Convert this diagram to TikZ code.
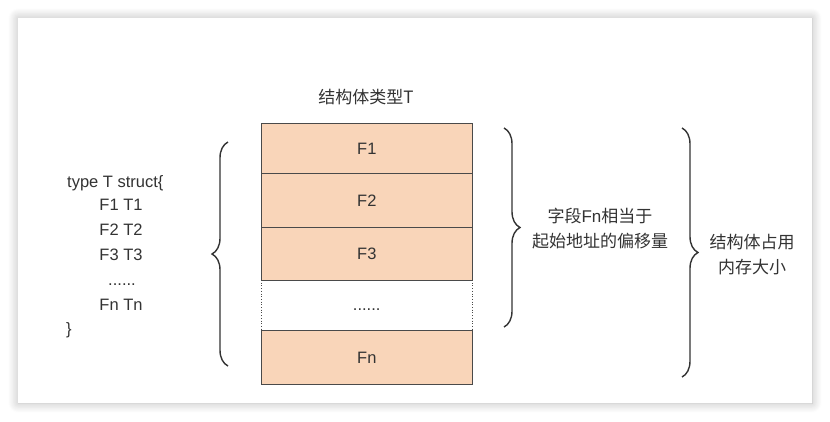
\documentclass[tikz,border=0pt]{standalone}
\usepackage{fontspec}
\setmainfont{Liberation Sans}
\newfontfamily\cjk{Noto Sans CJK SC}
\usetikzlibrary{decorations.pathreplacing,shadows.blur}

\definecolor{peach}{HTML}{F9D5B9}
\definecolor{ink}{HTML}{333333}
\definecolor{rule}{HTML}{4A4A4A}

\tikzset{
  card/.style={fill=white, blur shadow={shadow xshift=0pt, shadow yshift=0pt,
      shadow blur radius=10pt, shadow blur steps=12, shadow opacity=28}},
  label/.style={text=ink, font=\fontsize{16.5}{20}\selectfont, inner sep=0pt},
  cjklabel/.style={text=ink, font=\fontsize{17}{20}\cjk, inner sep=0pt},
  codeline/.style={label, anchor=base},
  field/.style={fill=peach, draw=rule, line width=0.7pt, inner sep=0pt},
  gap/.style={fill=white, inner sep=0pt},
  brace/.style={draw=ink, line width=1.4pt,
      decorate, decoration={brace, amplitude=16pt, aspect=0.5}},
}

\begin{document}
\begin{tikzpicture}[x=1pt,y=-1pt]
  \useasboundingbox (0,0) rectangle (830,421);

  % page card with soft shadow
  \path[card] (18,18) rectangle (812,403);

  % title
  \node[cjklabel] (title) at (366,97) {结构体类型T};

  % memory layout of the struct
  \node[field, minimum width=211pt, minimum height=50pt, anchor=north west] (f1) at (261,123) {};
  \node[field, minimum width=211pt, minimum height=54pt, anchor=north west] (f2) at (261,173) {};
  \node[field, minimum width=211pt, minimum height=53pt, anchor=north west] (f3) at (261,227) {};
  \node[gap,   minimum width=211pt, minimum height=50pt, anchor=north west] (fd) at (261,280) {};
  \node[field, minimum width=211pt, minimum height=54pt, anchor=north west] (fn) at (261,330) {};
  \draw[rule, line width=0.7pt, dotted] (fd.north west) -- (fd.south west);
  \draw[rule, line width=0.7pt, dotted] (fd.north east) -- (fd.south east);
  \draw[rule, line width=0.7pt] (fd.north west) -- (fd.north east);
  \draw[rule, line width=0.7pt] (fd.south west) -- (fd.south east);

  \node[label] (t1) at (f1.center) {F1};
  \node[label] (t2) at (f2.center) {F2};
  \node[label] (t3) at (f3.center) {F3};
  \node[label] (td) at ([yshift=-4pt]fd.center) {......};
  \node[label] (tn) at (fn.center) {Fn};

  % struct declaration
  \node[codeline, anchor=base west] (c0) at (67,187) {type T struct\{};
  \node[codeline] (c1) at (121,210) {F1 T1};
  \node[codeline] (c2) at (121,235) {F2 T2};
  \node[codeline] (c3) at (121,260) {F3 T3};
  \node[codeline] (c4) at (122,285) {......};
  \node[codeline] (c5) at (121,310) {Fn Tn};
  \node[codeline, anchor=base west] (c6) at (66,334) {\}};

  % braces
  \coordinate (lb1) at (228,142);
  \coordinate (lb2) at (228,366);
  \draw[brace] (lb2) -- (lb1);

  \coordinate (ra1) at (504,128);
  \coordinate (ra2) at (504,327);
  \draw[brace] (ra1) -- (ra2);

  \coordinate (rb1) at (682,128);
  \coordinate (rb2) at (682,377);
  \draw[brace] (rb1) -- (rb2);

  % annotations
  \node[cjklabel, align=center] (offs) at (600,229) {字段{\fontspec{Liberation Sans}Fn}相当于\\[5pt]起始地址的偏移量};
  \node[cjklabel, align=center] (size) at (752,255) {结构体占用\\[5pt]内存大小};
\end{tikzpicture}
\end{document}
